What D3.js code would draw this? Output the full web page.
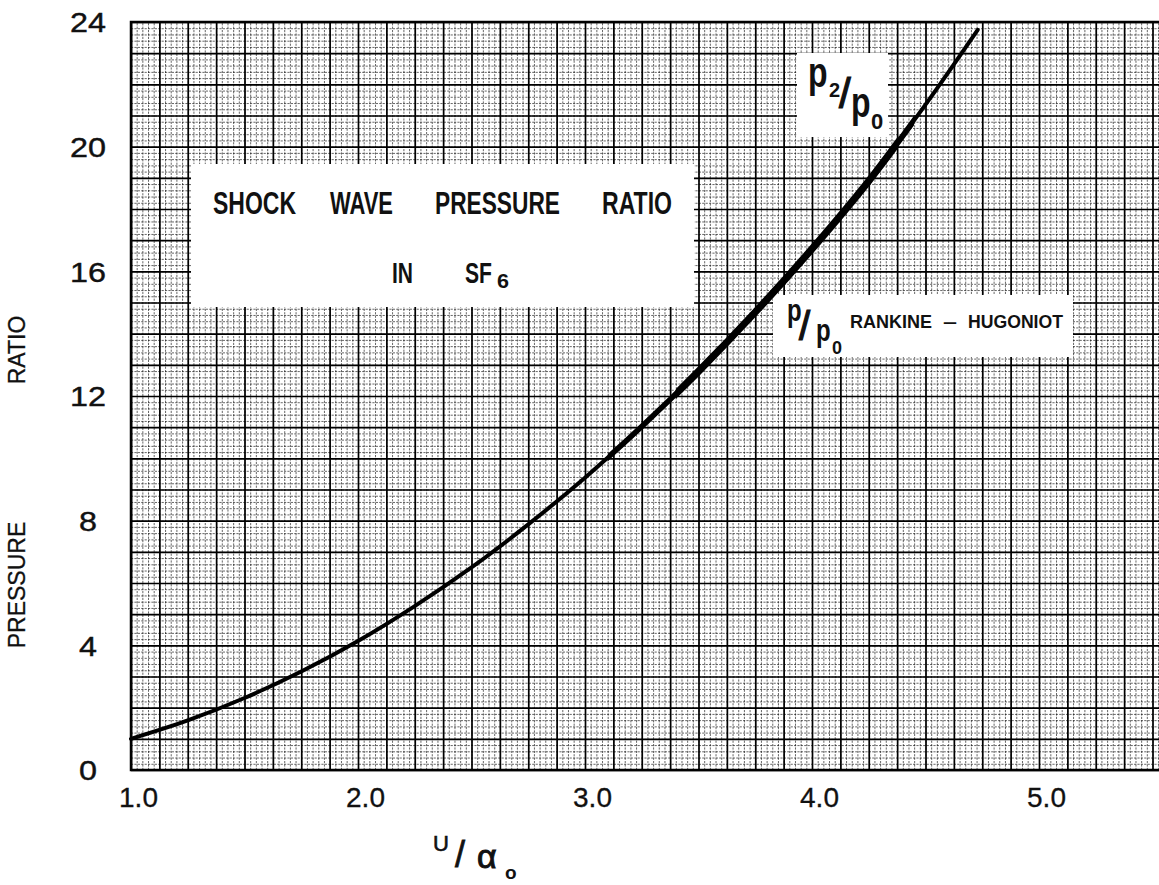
<!DOCTYPE html>
<html>
<head>
<meta charset="utf-8">
<script src="https://cdn.jsdelivr.net/npm/d3@7"></script>
<style>
  html, body { margin: 0; padding: 0; background: #fff; }
  svg { display: block; }
  text { font-family: "Liberation Sans", Arial, sans-serif; fill: #111; }
</style>
</head>
<body>
<div id="chart"></div>
<script>
var width = 1159;
var height = 885;

// data
var uOverA = [1.0, 1.25, 1.5, 1.75, 2.0, 2.25, 2.5, 2.75, 3.0, 3.25, 3.5, 3.75, 4.0, 4.25, 4.5, 4.73];
var pRatio = [1.0, 1.59, 2.31, 3.16, 4.14, 5.26, 6.50, 7.88, 9.38, 11.02, 12.79, 14.69, 16.72, 18.9, 21.35, 23.75];
var xTicks = [1, 2, 3, 4, 5];
var yTicks = [0, 4, 8, 12, 16, 20, 24];
// heavier pen strokes (Rankine-Hugoniot part) over these ranges of U/a0
var thickRanges = [[3.1, 4.45, 5.6], [3.4, 4.38, 7.2]];

var plotLeft = 131, plotTop = 22, plotBottom = 770;

var xScale = d3.scaleLinear().domain([1, 1 + (width - plotLeft) / 227]).range([plotLeft, width]);
var yScale = d3.scaleLinear().domain([0, 24]).range([plotBottom, plotTop]);

var svg = d3.select("#chart").append("svg")
    .attr("width", width)
    .attr("height", height);

// graph paper
var paper = svg.append("g");
var ph = plotBottom - plotTop;
var pw = width - plotLeft;

var minorX = d3.range(1, 5.55, 0.025);
var majorX = d3.range(1, 5.55, 0.125);
var minorY = d3.range(0, 24.01, 0.2);
var majorY = d3.range(0, 24.01, 1);

paper.append("g")
    .attr("class", "minor")
    .attr("transform", "translate(0," + plotBottom + ")")
    .call(d3.axisBottom(xScale).tickValues(minorX).tickSize(-ph).tickFormat(""));
paper.append("g")
    .attr("class", "minor")
    .attr("transform", "translate(" + plotLeft + ",0)")
    .call(d3.axisLeft(yScale).tickValues(minorY).tickSize(-pw).tickFormat(""));
paper.append("g")
    .attr("class", "major")
    .attr("transform", "translate(0," + plotBottom + ")")
    .call(d3.axisBottom(xScale).tickValues(majorX).tickSize(-ph).tickFormat(""));
paper.append("g")
    .attr("class", "major")
    .attr("transform", "translate(" + plotLeft + ",0)")
    .call(d3.axisLeft(yScale).tickValues(majorY).tickSize(-pw).tickFormat(""));

paper.selectAll(".domain").remove();
paper.selectAll(".minor line")
    .attr("stroke", "#000")
    .attr("stroke-opacity", 0.75)
    .attr("stroke-width", 0.8)
    .attr("stroke-dasharray", "2.2,1.2");
paper.selectAll(".major line")
    .attr("stroke", "#000")
    .attr("stroke-width", 1.7);

// frame
svg.append("path")
    .attr("d", "M" + width + "," + plotTop + "H" + plotLeft + "V" + plotBottom + "H" + width)
    .attr("fill", "none")
    .attr("stroke", "#000")
    .attr("stroke-width", 2.5);

// white label boxes pasted on the paper
function box(x, y, w, h) {
    svg.append("rect").attr("x", x).attr("y", y).attr("width", w).attr("height", h).attr("fill", "#fff");
}
box(191, 164, 503, 143);
box(797, 53, 91, 84);
box(773, 295, 300, 62);

function txt(s, x, y, o) {
    var t = svg.append("text")
        .attr("x", x)
        .attr("y", y)
        .attr("font-size", o.size)
        .attr("font-weight", o.bold ? "bold" : "normal")
        .text(s);
    if (o.len) t.attr("textLength", o.len).attr("lengthAdjust", "spacingAndGlyphs");
    if (o.anchor) t.attr("text-anchor", o.anchor);
    if (o.stroke) t.attr("stroke", "#111").attr("stroke-width", o.stroke);
    return t;
}
function stretched(s, x, y, size, sy) {
    return svg.append("text")
        .attr("transform", "translate(" + x + "," + y + ") scale(1," + sy + ")")
        .attr("font-size", size)
        .text(s);
}

// curve
var pts = uOverA.map(function (u, i) { return [u, pRatio[i]]; });
var line = d3.line()
    .x(function (d) { return xScale(d[0]); })
    .y(function (d) { return yScale(d[1]); })
    .curve(d3.curveCatmullRom);

svg.append("path")
    .datum(pts)
    .attr("d", line)
    .attr("fill", "none")
    .attr("stroke", "#000")
    .attr("stroke-width", 4)
    .attr("stroke-linecap", "round");

thickRanges.forEach(function (r, i) {
    svg.append("clipPath").attr("id", "thick" + i)
        .append("rect")
        .attr("x", xScale(r[0]))
        .attr("y", 0)
        .attr("width", xScale(r[1]) - xScale(r[0]))
        .attr("height", height);
    svg.append("path")
        .datum(pts)
        .attr("d", line)
        .attr("fill", "none")
        .attr("stroke", "#000")
        .attr("stroke-width", r[2])
        .attr("clip-path", "url(#thick" + i + ")");
});

// title box
txt("SHOCK", 213, 214, { size: 32, bold: true, len: 83 });
txt("WAVE", 330, 214, { size: 32, bold: true, len: 63 });
txt("PRESSURE", 435, 214, { size: 32, bold: true, len: 125 });
txt("RATIO", 602, 214, { size: 32, bold: true, len: 70 });
txt("IN", 392, 283, { size: 29, bold: true, len: 21 });
txt("SF", 465, 283, { size: 29, bold: true, len: 27 });
txt("6", 497, 288, { size: 21, bold: true, len: 12 });

// p2/p0 label
stretched("p", 808, 87, 32, 1.3).attr("font-weight", "bold");
txt("2", 829, 97, { size: 20, bold: true });
txt("/", 839, 108, { size: 42, stroke: 1.2 });
stretched("p", 851, 117, 32, 1.3).attr("font-weight", "bold");
txt("0", 871, 129, { size: 22, bold: true });

// p/p0 Rankine-Hugoniot label
stretched("p", 787, 321, 24, 1.3).attr("font-weight", "bold");
txt("/", 799, 340, { size: 40, stroke: 1.2 });
stretched("p", 816, 341, 24, 1.3).attr("font-weight", "bold");
txt("0", 832, 354, { size: 18, bold: true });
txt("RANKINE", 850, 328, { size: 18, bold: true, len: 82 });
txt("\u2013", 943, 328, { size: 18, bold: true, len: 14 });
txt("HUGONIOT", 968, 328, { size: 18, bold: true, len: 95 });

// axes tick labels
var yAxis = svg.append("g")
    .attr("transform", "translate(88,0)")
    .call(d3.axisLeft(yScale).tickValues(yTicks).tickSize(0).tickPadding(0));
yAxis.select(".domain").remove();
yAxis.selectAll("text")
    .attr("x", 0)
    .attr("text-anchor", "middle")
    .attr("font-size", 27)
    .attr("dy", "0.36em")
    .attr("fill", "#111")
    .attr("stroke", "#111")
    .attr("stroke-width", 0.4)
    .attr("textLength", function (d) { return String(d).length * 18; })
    .attr("lengthAdjust", "spacingAndGlyphs");

var xAxis = svg.append("g")
    .attr("transform", "translate(7,0)")
    .call(d3.axisBottom(xScale).tickValues(xTicks).tickSize(0).tickPadding(0).tickFormat(d3.format(".1f")));
xAxis.select(".domain").remove();
xAxis.selectAll("text")
    .attr("font-size", 28)
    .attr("y", 807)
    .attr("dy", null)
    .attr("fill", "#111")
    .attr("stroke", "#111")
    .attr("stroke-width", 0.3);
svg.selectAll(".tick text").attr("font-family", null);

// axis titles
svg.append("text")
    .attr("transform", "translate(25,585) rotate(-90)")
    .attr("text-anchor", "middle")
    .attr("font-size", 23)
    .attr("stroke", "#111")
    .attr("stroke-width", 0.3)
    .text("PRESSURE");
svg.append("text")
    .attr("transform", "translate(25,350) rotate(-90)")
    .attr("text-anchor", "middle")
    .attr("font-size", 23)
    .attr("stroke", "#111")
    .attr("stroke-width", 0.3)
    .text("RATIO");

txt("U", 433, 851, { size: 22, stroke: 0.6 });
txt("/", 455, 867, { size: 36, stroke: 0.8 });
txt("\u03b1", 477, 868, { size: 34, stroke: 1 });
txt("o", 505, 879, { size: 19, bold: true });
</script>
</body>
</html>
